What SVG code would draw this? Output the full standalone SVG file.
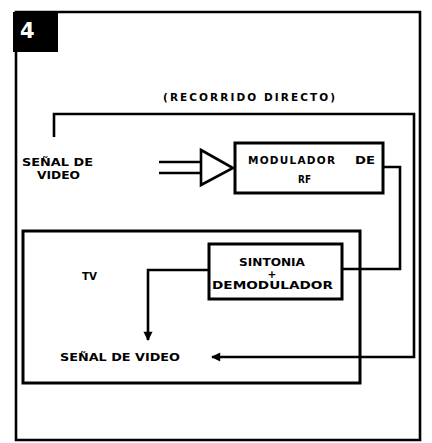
<svg xmlns="http://www.w3.org/2000/svg" width="432" height="443" viewBox="0 0 432 443">
<style>
.t{font-family:"DejaVu Sans","Liberation Sans",Arial,sans-serif;font-weight:bold;font-size:10.5px;fill:#000}
.ln{fill:none;stroke:#000;stroke-width:2.6;stroke-linejoin:miter}
.bx{fill:#fff;stroke:#000;stroke-width:3}
</style>
<defs>
<marker id="ah" viewBox="0 0 10 10" refX="9" refY="5" markerWidth="5" markerHeight="3.5" markerUnits="strokeWidth" orient="auto">
<path d="M0,0 L10,5 L0,10 Z" fill="#000"/>
</marker>
</defs>
<rect width="432" height="443" fill="#fff"/>
<g id="frame">
<path class="ln" d="M16,12 H420 V440 H16 Z"/>
<rect x="13" y="12" width="45" height="40" fill="#000"/>
<text x="20" y="38" style="font-family:'DejaVu Sans',Arial,sans-serif;font-weight:bold;font-size:21px;fill:#fff">4</text>
</g>
<g id="connectors">
<path class="ln" d="M54,137 V114 H414 V357 H212" marker-end="url(#ah)"/>
<path class="ln" d="M383,167 H400 V269 H342"/>
<path class="ln" d="M209,270 H148 V340" marker-end="url(#ah)"/>
<path class="ln" d="M159,162 H201 M159,173 H201"/>
<path class="ln" d="M201,150 L233,168 L201,185 Z" fill="#fff"/>
</g>
<g id="label-recorrido">
<text class="t" x="163" y="101" textLength="172" lengthAdjust="spacing">(RECORRIDO DIRECTO)</text>
</g>
<g id="senal-in">
<text class="t" x="22" y="166" textLength="71" lengthAdjust="spacingAndGlyphs">SEÑAL DE</text>
<text class="t" x="37" y="179" textLength="43" lengthAdjust="spacingAndGlyphs">VIDEO</text>
</g>
<g id="modulador">
<rect class="bx" x="235" y="143" width="148" height="50"/>
<text class="t" x="248" y="164" textLength="87" lengthAdjust="spacing">MODULADOR</text>
<text class="t" x="355" y="164" textLength="20" lengthAdjust="spacingAndGlyphs">DE</text>
<text class="t" x="298" y="183" textLength="13" lengthAdjust="spacingAndGlyphs">RF</text>
</g>
<g id="tv">
<rect x="23" y="231" width="337" height="152" fill="none" stroke="#000" stroke-width="3"/>
<text class="t" x="82" y="280" textLength="15" lengthAdjust="spacingAndGlyphs">TV</text>
</g>
<g id="sintonia">
<rect class="bx" x="209" y="244" width="133" height="55"/>
<text class="t" x="239" y="266" textLength="66" lengthAdjust="spacingAndGlyphs">SINTONIA</text>
<text class="t" x="272" y="278" text-anchor="middle">+</text>
<text class="t" x="212" y="289" textLength="121" lengthAdjust="spacingAndGlyphs">DEMODULADOR</text>
</g>
<g id="senal-out">
<text class="t" x="60" y="361" textLength="120" lengthAdjust="spacingAndGlyphs">SEÑAL DE VIDEO</text>
</g>
</svg>
